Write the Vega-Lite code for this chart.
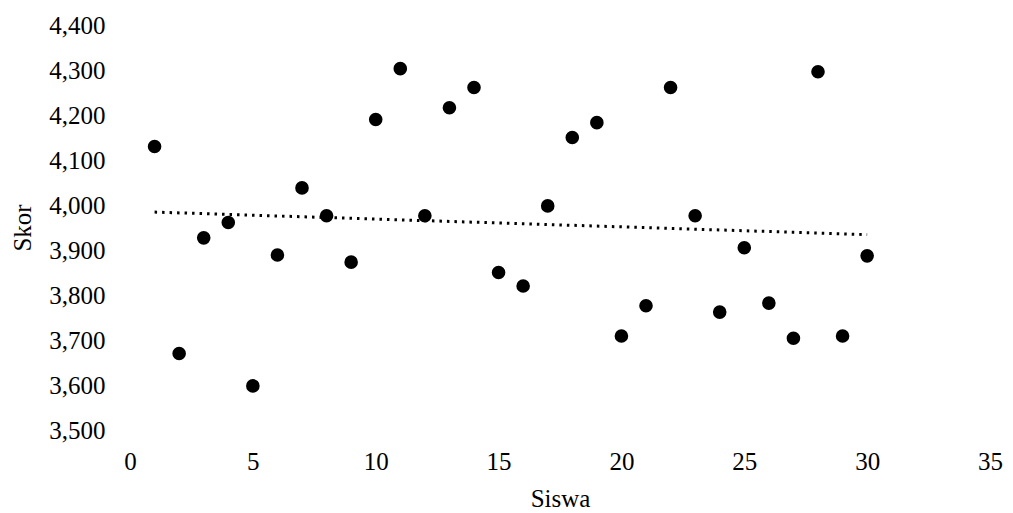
{
  "$schema": "https://vega.github.io/schema/vega-lite/v6.json",
  "width": 860,
  "height": 405,
  "autosize": {"type": "none"},
  "padding": {"left": 130, "top": 25, "right": 23, "bottom": 83},
  "background": "white",
  "config": {
    "view": {"stroke": null},
    "font": "Liberation Serif",
    "axis": {"grid": false, "domain": false, "ticks": false, "labelFlush": false, "labelFont": "Liberation Serif", "titleFont": "Liberation Serif", "labelColor": "#000", "titleColor": "#000", "labelFontSize": 25, "titleFontSize": 25, "titleFontWeight": "normal"}
  },
  "data": {"values": [
    {"siswa": 1, "skor": 4.130},
    {"siswa": 2, "skor": 3.670},
    {"siswa": 3, "skor": 3.927},
    {"siswa": 4, "skor": 3.961},
    {"siswa": 5, "skor": 3.598},
    {"siswa": 6, "skor": 3.889},
    {"siswa": 7, "skor": 4.038},
    {"siswa": 8, "skor": 3.976},
    {"siswa": 9, "skor": 3.873},
    {"siswa": 10, "skor": 4.190},
    {"siswa": 11, "skor": 4.303},
    {"siswa": 12, "skor": 3.976},
    {"siswa": 13, "skor": 4.216},
    {"siswa": 14, "skor": 4.261},
    {"siswa": 15, "skor": 3.850},
    {"siswa": 16, "skor": 3.820},
    {"siswa": 17, "skor": 3.998},
    {"siswa": 18, "skor": 4.150},
    {"siswa": 19, "skor": 4.183},
    {"siswa": 20, "skor": 3.709},
    {"siswa": 21, "skor": 3.776},
    {"siswa": 22, "skor": 4.261},
    {"siswa": 23, "skor": 3.976},
    {"siswa": 24, "skor": 3.762},
    {"siswa": 25, "skor": 3.905},
    {"siswa": 26, "skor": 3.782},
    {"siswa": 27, "skor": 3.704},
    {"siswa": 28, "skor": 4.296},
    {"siswa": 29, "skor": 3.709},
    {"siswa": 30, "skor": 3.887}
  ]},
  "layer": [
    {
      "transform": [{"regression": "skor", "on": "siswa", "extent": [1, 30]}],
      "mark": {"type": "line", "color": "#000", "strokeWidth": 3, "strokeDash": [2.5, 5]},
      "encoding": {
        "x": {"field": "siswa", "type": "quantitative"},
        "y": {"field": "skor", "type": "quantitative"}
      }
    },
    {
      "mark": {"type": "circle", "color": "#000", "opacity": 1, "size": 185},
      "encoding": {
        "x": {"field": "siswa", "type": "quantitative", "title": "Siswa", "scale": {"domain": [0, 35], "nice": false}, "axis": {"values": [0, 5, 10, 15, 20, 25, 30, 35], "labelPadding": 19, "titlePadding": 12}},
        "y": {"field": "skor", "type": "quantitative", "title": "Skor", "scale": {"domain": [3.5, 4.4], "nice": false, "zero": false}, "axis": {"values": [3.5, 3.6, 3.7, 3.8, 3.9, 4.0, 4.1, 4.2, 4.3, 4.4], "labelExpr": "replace(format(datum.value, '.3f'), '.', ',')", "labelPadding": 25, "titlePadding": 13}}
      }
    }
  ]
}
